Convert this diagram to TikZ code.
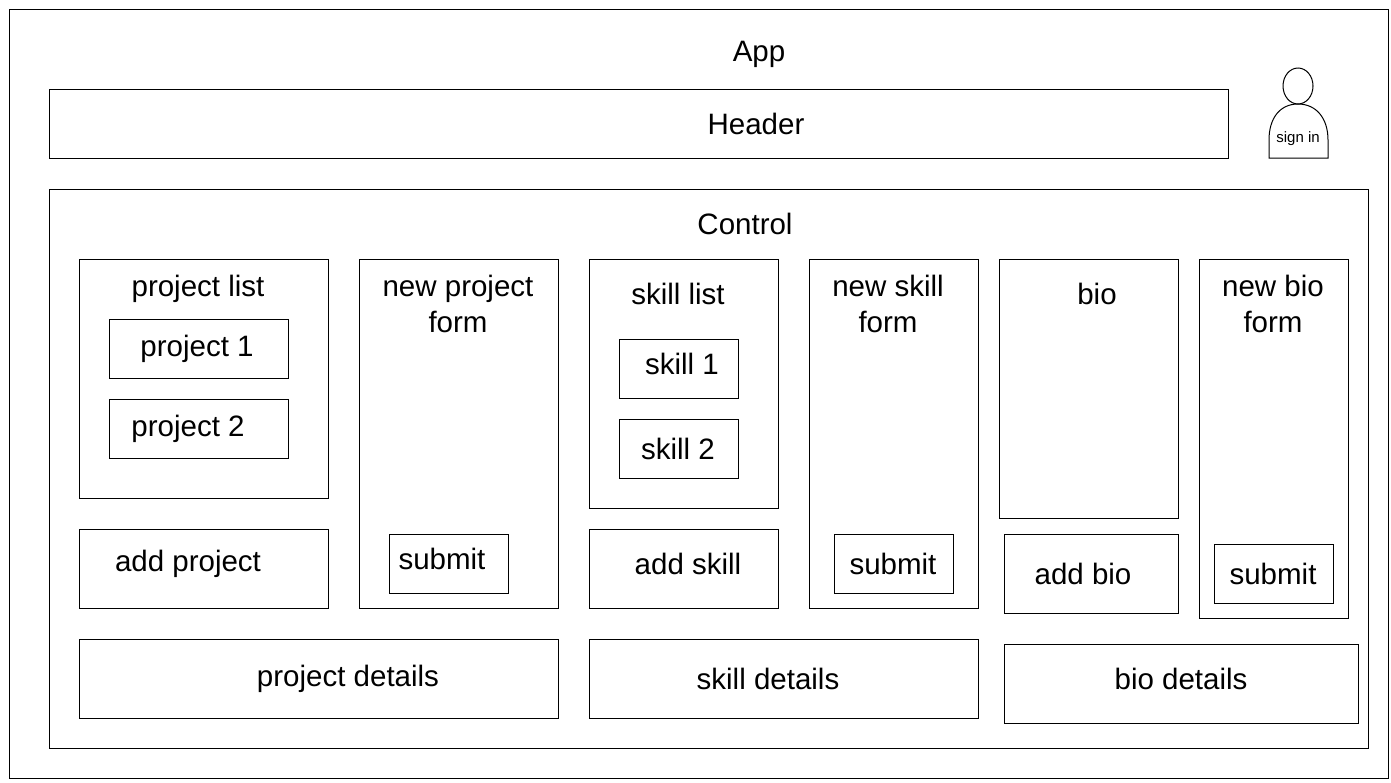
\documentclass[tikz,border=0pt]{standalone}
\usepackage{fontspec}
\setmainfont{Liberation Sans}
\usetikzlibrary{shapes.geometric}

\tikzset{
   x=1pt,y=-1pt,
   box/.style={draw=black,line width=1pt,anchor=north west,inner sep=0pt,outer sep=0pt},
   txt/.style={inner sep=0pt,align=center,font=\fontsize{29.5}{36}\selectfont},
   small/.style={inner sep=0pt,font=\fontsize{15}{18}\selectfont}
}

\begin{document}
\begin{tikzpicture}
         \useasboundingbox (0,0) rectangle (1391,782);

         \node[box,name=app,minimum width=1379pt,minimum height=769pt] at (9,9) {};
         \node[box,name=header,minimum width=1179pt,minimum height=69pt] at (49,89) {};
         \node[box,name=control,minimum width=1319pt,minimum height=559pt] at (49,189) {};

         \node[box,name=plist,minimum width=249pt,minimum height=239pt] at (79,259) {};
         \node[box,name=p1,minimum width=179pt,minimum height=59pt] at (109,319) {};
         \node[box,name=p2,minimum width=179pt,minimum height=59pt] at (109,399) {};
         \node[box,name=padd,minimum width=249pt,minimum height=79pt] at (79,529) {};
         \node[box,name=pform,minimum width=199pt,minimum height=349pt] at (359,259) {};
         \node[box,name=psub,minimum width=119pt,minimum height=59pt] at (389,534) {};

         \node[box,name=slist,minimum width=189pt,minimum height=249pt] at (589,259) {};
         \node[box,name=s1,minimum width=119pt,minimum height=59pt] at (619,339) {};
         \node[box,name=s2,minimum width=119pt,minimum height=59pt] at (619,419) {};
         \node[box,name=sadd,minimum width=189pt,minimum height=79pt] at (589,529) {};
         \node[box,name=sform,minimum width=169pt,minimum height=349pt] at (809,259) {};
         \node[box,name=ssub,minimum width=119pt,minimum height=59pt] at (834,534) {};

         \node[box,name=bio,minimum width=179pt,minimum height=259pt] at (999,259) {};
         \node[box,name=badd,minimum width=174pt,minimum height=79pt] at (1004,534) {};
         \node[box,name=bform,minimum width=149pt,minimum height=359pt] at (1199,259) {};
         \node[box,name=bsub,minimum width=119pt,minimum height=59pt] at (1214,544) {};

         \node[box,name=pdet,minimum width=479pt,minimum height=79pt] at (79,639) {};
         \node[box,name=sdet,minimum width=389pt,minimum height=79pt] at (589,639) {};
         \node[box,name=bdet,minimum width=354pt,minimum height=79pt] at (1004,644) {};

         % text sits off centre in most boxes
         \node[txt,name=apptxt] at (759,54) {App};
         \node[txt,name=headertxt] at (756,124) {Header};
         \node[txt,name=controltxt] at (745,224) {Control};
         \node[txt,name=plisttxt] at (198,289) {project list};
         \node[txt,name=p1txt] at (197,349) {project 1};
         \node[txt,name=p2txt] at (188,429) {project 2};
         \node[txt,name=paddtxt] at (188,564) {add project};
         \node[txt,name=pformtxt] at (458,304) {new project\\form};
         \node[txt,name=psubtxt] at (442,559) {submit};
         \node[txt,name=slisttxt] at (678,294) {skill list};
         \node[txt,name=s1txt] at (682,364) {skill 1};
         \node[txt,name=s2txt] at (678,449) {skill 2};
         \node[txt,name=saddtxt] at (688,564) {add skill};
         \node[txt,name=sformtxt] at (888,304) {new skill\\form};
         \node[txt,name=ssubtxt] at (893,564) {submit};
         \node[txt,name=biotxt] at (1097,294) {bio};
         \node[txt,name=baddtxt] at (1083,574) {add bio};
         \node[txt,name=bformtxt] at (1273,304) {new bio\\form};
         \node[txt,name=bsubtxt] at (1273,574) {submit};
         \node[txt,name=pdettxt] at (348,679) {project details};
         \node[txt,name=sdettxt] at (768,679) {skill details};
         \node[txt,name=bdettxt] at (1181,679) {bio details};

         % sign in figure
         \node[draw=black,line width=1pt,ellipse,name=head,minimum width=30pt,minimum height=36pt,inner sep=0pt,outer sep=0pt] at (1298,86) {};
         \draw[line width=1pt] (1269,158) -- (1269,140)
            .. controls (1269,118) and (1280,104) .. (1298,104)
            .. controls (1316,104) and (1328,118) .. (1328,140)
            -- (1328,158) -- cycle;
         \node[small,name=signin] at (1298,139) {sign in};
\end{tikzpicture}
\end{document}
